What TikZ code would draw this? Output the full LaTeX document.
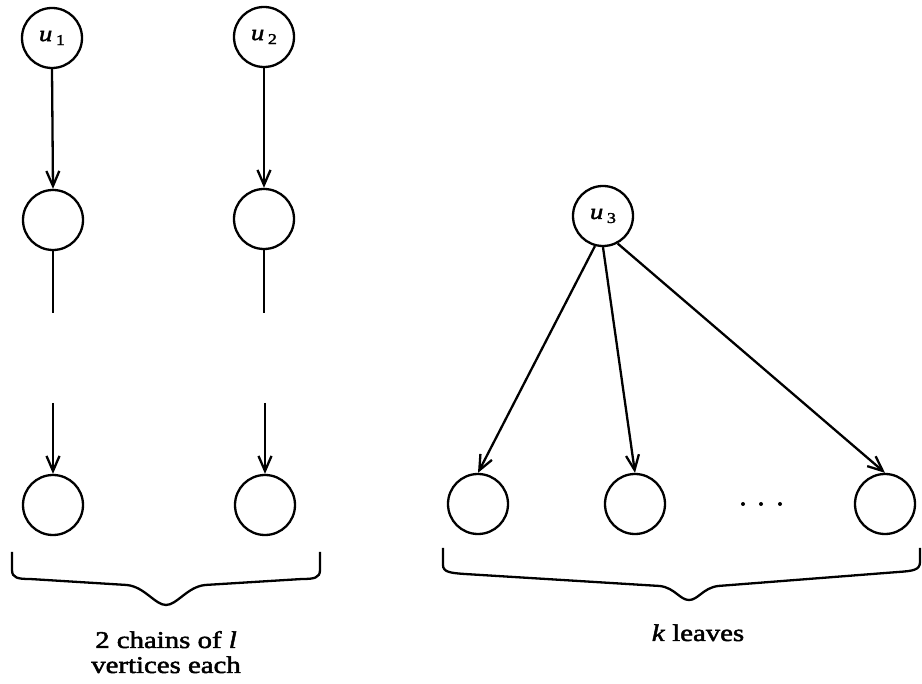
\documentclass[tikz,border=0pt]{standalone}
\usepackage{fontspec}
\setmainfont{Liberation Serif}[FakeStretch=1.2,FakeBold=2]
\usetikzlibrary{arrows.meta}
\begin{document}
\begin{tikzpicture}[x=1pt,y=-1pt,line width=2.3pt,
  vtx/.style={circle,draw,minimum size=60pt,inner sep=0pt,font=\fontsize{22}{24}\selectfont},
  arr/.style={-{Straight Barb[length=15pt,width=13pt]}},
  lbl/.style={font=\fontsize{24}{27}\selectfont,anchor=base,inner sep=0pt}]
\useasboundingbox (0,0) rectangle (922,684);
% left chains
\node[vtx] (u1) at (52,38) {\textit{u}\,\raisebox{-4pt}{\fontsize{15}{15}\selectfont 1}};
\node[vtx] (m1) at (53,220) {};
\node[vtx] (b1) at (53,505) {};
\node[vtx] (u2) at (264,37) {\textit{u}\,\raisebox{-4pt}{\fontsize{15}{15}\selectfont 2}};
\node[vtx] (m2) at (264,219) {};
\node[vtx] (b2) at (265,505) {};
\coordinate (c1a) at (53,313);
\coordinate (c1b) at (53,403);
\coordinate (c2a) at (264,313);
\coordinate (c2b) at (265,403);
\draw[arr] (u1.south) -- (m1.north);
\draw (m1.south) -- (c1a);
\draw[arr] (c1b) -- (b1.north);
\draw[arr] (u2.south) -- (m2.north);
\draw (m2.south) -- (c2a);
\draw[arr] (c2b) -- (b2.north);
% tree
\node[vtx] (u3) at (603,216) {\textit{u}\,\raisebox{-4pt}{\fontsize{15}{15}\selectfont 3}};
\node[vtx] (l1) at (478,504) {};
\node[vtx] (l2) at (635,504) {};
\node[vtx] (l3) at (885,504) {};
\draw[arr] (u3.-105) -- (l1.north);
\draw[arr] (u3.south) -- (l2.north);
\draw[arr] (u3.-62) -- (l3.north);
\foreach \x in {743,761,780} \fill (\x,504) circle (2pt);
% braces
\draw (12,552) -- (12,570) .. controls (12,578) and (18,579) .. (30,579) -- (127,585)
  .. controls (145,587) and (155,605) .. (166,605) .. controls (177,605) and (187,587) .. (205,585)
  -- (302,579) .. controls (314,579) and (320,578) .. (320,570) -- (320,552);
\draw (443,548) -- (443,565) .. controls (443,572) and (450,573) .. (465,574) -- (660,586)
  .. controls (675,588) and (680,600) .. (689,600) .. controls (698,600) and (703,588) .. (718,586)
  -- (898,572) .. controls (913,571) and (920,570) .. (920,562) -- (920,548);
% labels
\node[lbl] (t1) at (166,648) {2 chains of \textit{l}};
\node[lbl] (t2) at (166,673) {vertices each};
\node[lbl] (t3) at (698,641) {\textit{k} leaves};
\end{tikzpicture}
\end{document}
